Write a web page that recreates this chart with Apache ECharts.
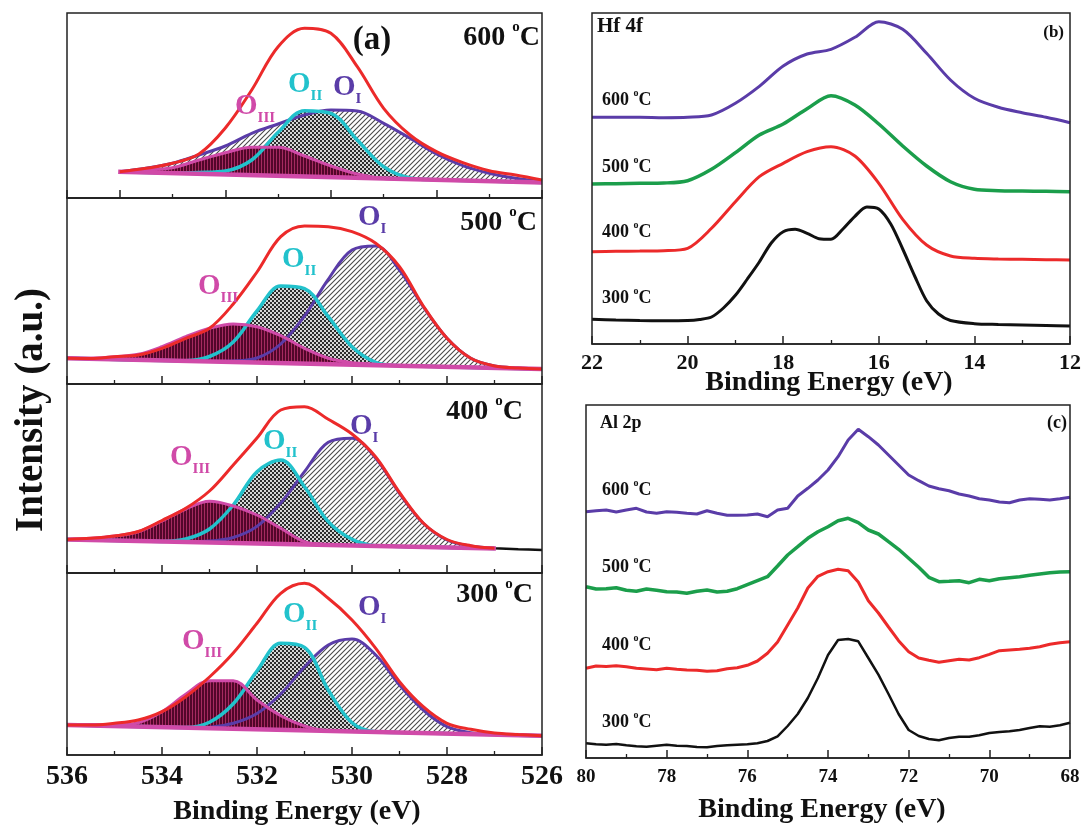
<!DOCTYPE html>
<html><head><meta charset="utf-8">
<script src="https://cdn.jsdelivr.net/npm/echarts@6/dist/echarts.min.js"></script>
<style>html,body{margin:0;padding:0;background:#fff}#c{width:1083px;height:831px}</style>
</head><body><div id="c"></div><script>
// ---------- Panel (a): O 1s, four sub-panels (heights in panel units) ----------
const eA600 = [534,533.5,533,532.5,532,531.5,531,530.5,530,529.5,529,528.5,528,527.5,527,526.5,526];
const eA = [536,535.5,535,534.5,534,533.5,533,532.5,532,531.5,531,530.5,530,529.5,529,528.5,528,527.5,527,526.5,526];

const a600Env  = [26.3,29.7,34.7,44,70,108,151.3,169.7,164.7,131.3,89.7,63,46.3,35.3,27.3,23,18];
const a600OI   = [26.3,29.7,34.7,43,52,64.7,74,83,88,87,74.7,59.7,44,32.3,24.7,19.7,16.3];
const a600OII  = [26.3,25.6,25,25.5,27,38,65.7,87.3,84.7,58,31.3,20,18.2,17.5,16.9,16.2,15.5];
const a600OIII = [26.3,28,30.3,38,45.3,50.7,50.7,42,32,24,19.6,18.9,18.2,17.5,16.9,16.2,15.5];
const a600BaseE = [534.03,526], a600Base = [26.3,15.5];

const a500Env  = [25.7,25.5,27.3,29,35.7,45.7,55.7,80,112,147.3,158,157.3,152.3,140.7,117.3,78,45.7,25.7,18,16,15];
const a500OI   = [25.7,25.2,24.6,24.1,23.6,23,22.6,23,26,40,68,104.7,134,138,114,77.3,45.7,25.7,18,16,15];
const a500OII  = [25.7,25.2,24.6,24.1,23.6,23.3,27.5,42,73,98,95.3,67.3,37.3,21.7,18.2,17.7,17.1,16.6,16.1,15.5,15];
const a500OIII = [25.7,25.5,27.3,29.7,37.3,47.3,55.7,60,57.3,48.3,35.7,25.7,21.3,19.8,18.2,17.7,17.1,16.6,16.1,15.5,15];
const a500BaseE = [536,526], a500Base = [25.7,15];

const a400Env  = [33.6,34.7,37,41.5,52.5,64.7,82,108,135,163,166.3,153.7,139,116,80.5,50,33.5,27.3,24.7,null,null];
const a400OI   = [33.6,33.1,32.6,32.1,31.6,31.5,32,35.5,46.6,70,101.3,130.7,134.7,114.7,79.7,49.7,33,27,24.7,null,null];
const a400OII  = [33.6,33.1,32.6,32.1,31.6,34,44,68,101.3,113,86.3,51.3,33.7,27.3,26.6,26.1,25.6,25.1,24.6,null,null];
const a400OIII = [33.6,34.7,37,41.3,52,64,71.7,67,58,44.7,31.3,28.3,27.6,27.1,26.6,26.1,25.6,25.1,24.6,null,null];
const a400BaseE = [536,526.97], a400Base = [33.6,24.6];
const a400TailE = [527.5,527,526.5,526], a400Tail = [26,24.7,23.7,23];

const a300Env  = [30,30,31.7,35,43.3,58.3,78,102,131.7,161.7,171.7,156.7,135,106.7,73.3,48.3,31.7,25.7,22,20.5,19.3];
const a300OI   = [30,29.5,28.9,28.4,27.9,27.5,27.8,31.7,41.5,61,88,110,116,100,70,45,28.3,22.3,20.4,19.8,19.3];
const a300OII  = [30,29.5,28.9,28.4,27.9,27.5,32.7,51.2,84,111.7,107.7,65,32.3,23.3,22.5,22,21.4,20.9,20.4,19.8,19.3];
const a300OIII = [30,30.5,30,32.3,43.3,60.7,74.3,74.3,55,39.3,29,24.1,23.6,23,22.5,22,21.4,20.9,20.4,19.8,19.3];
const a300BaseE = [536,526], a300Base = [30,19.3];

// ---------- Panel (b): Hf 4f ----------
const eB = [22,21.5,21,20.5,20,19.5,19,18.5,18,17.5,17,16.5,16,15.5,15,14.5,14,13.5,13,12.5,12];
const eB300 = [22,21.5,21,20.5,20,19.75,19.5,19.25,19,18.75,18.5,18.25,18,17.75,17.5,17.25,17,16.75,16.5,16.25,16,15.75,15.5,15.25,15,14.75,14.5,14,13.5,13,12.5,12];
const b600 = [226.7,226.7,226.7,226.3,226.7,229,240.7,257.6,278,290,294.7,306.7,322.3,314.7,290.7,264,245.7,236.7,231.3,226.7,221.3];
const b500 = [160,160.3,160.7,161,163.3,174.7,191.3,209,220,235.3,248.3,239,220,198,178,162.3,154.7,153.3,153,152.7,152.3];
const b400 = [92.3,92.7,93,93.3,95.7,115.7,142.3,167.3,180.7,192.3,197.3,188,160.7,124.7,99,88,85.7,85,84.7,84.3,84];
const b300 = [24.7,24,23.5,23.3,23.5,24.5,27,36,48.7,65,82,101,112.3,114.7,110.7,105.3,104.7,115,127.7,137,135,120,95,68,43.3,30,23.5,20.3,19.5,19,18.5,18];

// ---------- Panel (c): Al 2p ----------
const eC = [80,79.75,79.5,79.25,79,78.75,78.5,78.25,78,77.75,77.5,77.25,77,76.75,76.5,76.25,76,75.75,75.5,75.25,75,74.75,74.5,74.25,74,73.75,73.5,73.25,73,72.75,72.5,72.25,72,71.75,71.5,71.25,71,70.75,70.5,70.25,70,69.75,69.5,69.25,69,68.75,68.5,68.25,68];
const c600 = [246.3,247.3,248,246,248,249.7,246,244.7,246.3,245.7,244.7,244,247.3,244.7,242.7,242.7,243,244,241.3,248,249.7,262,269.7,278,288,301.3,318,328.7,321.3,313,303,293,283,277.3,272,269.3,267.3,264,262,259.3,258,256,255.3,258,259.3,258.7,258,259.3,260.7];
const c500 = [171.3,169,169.3,170.3,167.7,166.7,169,167.7,166.3,166,164.7,166.7,168,166,166.7,169.3,173.3,177.3,181.3,192,203,211.3,219.7,226.3,231.3,237.3,239.7,235.3,228,224,216.3,208.7,199.7,190.7,180.7,176.3,176.7,177.3,175.3,178.7,177.3,179.3,180.3,181.3,182.7,184,185.3,186,186.3];
const c400 = [89.7,92,91.5,92.3,91.3,89.7,89,88.3,89.7,88.7,88,87.7,86.7,87.3,89.3,90.3,92.7,97,104.7,116,133,150,170,181.7,186.3,188.7,187.3,176,157.3,145,131,117.3,106.3,100,97.7,95.7,97.3,98.7,98,100.3,103.7,107.3,108,108.7,109.7,111.3,113.7,115.3,116.3];
const c300 = [14.7,13.7,13.3,14,12.7,11.7,11.3,12.3,13.3,12.3,12,11,10.7,12,12.7,13.3,13.7,14.7,17,21.7,32,44,60,80,103,118,119,116.7,100,83.3,64,44,28,22,19,17.7,20,21.3,21.3,22.7,25,26,26.7,28,30,31.7,31.3,32.7,35.3];

const tempsA = ['600','500','400','300'];

// ---------- styling ----------
const FONT = '"Liberation Serif","Times New Roman",serif';
const PURPLE = '#5a3ca8', CYAN = '#22c2cc', MAGENTA = '#d04aa8', RED = '#ec2a2a', GREEN = '#1b9e4b', BLACK = '#111';

function pat(w, h, draw) { const c = document.createElement('canvas'); c.width = w; c.height = h; draw(c.getContext('2d')); return {image: c, repeat: 'repeat'}; }
const hatch = pat(5, 5, g => { g.fillStyle = '#fff'; g.fillRect(0,0,5,5); g.strokeStyle = '#4a4a4a'; g.lineWidth = 1.1; g.beginPath(); g.moveTo(0,5); g.lineTo(5,0); g.moveTo(-1,1); g.lineTo(1,-1); g.moveTo(4,6); g.lineTo(6,4); g.stroke(); });
const checker = pat(4, 4, g => { g.fillStyle = '#d6d6d6'; g.fillRect(0,0,4,4); g.fillStyle = '#2c2c2c'; g.fillRect(0,0,2,2); g.fillRect(2,2,2,2); });
const maroon = pat(3, 3, g => { g.fillStyle = '#52062a'; g.fillRect(0,0,3,3); g.fillStyle = '#a62a60'; g.fillRect(0,0,1,3); });

const zip = (xs, ys) => xs.map((x, i) => [x, ys[i]]).filter(p => p[1] != null);

const grids = [
  {left: 67, top: 13, width: 475, height: 185},
  {left: 67, top: 198, width: 475, height: 186},
  {left: 67, top: 384, width: 475, height: 189},
  {left: 67, top: 573, width: 475, height: 182},
  {left: 592, top: 13, width: 478, height: 331},
  {left: 586, top: 405, width: 484, height: 353}
].map(g => Object.assign(g, {show: false, containLabel: false, outerBoundsMode: 'none'}));

function xAx(gi, min, max, showLabel, size, margin) {
  return {gridIndex: gi, type: 'value', min, max, inverse: true, interval: 2, z: 20,
    axisLine: {show: true, onZero: false, lineStyle: {color: '#222', width: 1.5}}, splitLine: {show: false},
    axisTick: {show: true, inside: true, length: 8, lineStyle: {color: '#222', width: 1.5}},
    minorTick: {show: true, splitNumber: 2, length: 4, lineStyle: {color: '#222', width: 1.3}},
    axisLabel: {show: showLabel, fontFamily: FONT, fontWeight: 'bold', fontSize: size, color: '#111', margin, hideOverlap: false, showMinLabel: true, showMaxLabel: true}};
}
const xAxis = [xAx(0,526,535,false,28,9), xAx(1,526,536,false,28,9), xAx(2,526,536,false,28,9), xAx(3,526,536,true,28,8), xAx(4,12,22,true,22,8), xAx(5,68,80,true,19,10)];
const yAxis = grids.map((g, i) => ({gridIndex: i, type: 'value', min: 0, max: g.height, show: false}));

const series = [];
function line(gi, data, color, width, extra) {
  series.push(Object.assign({type: 'line', xAxisIndex: gi, yAxisIndex: gi, data, symbol: 'none', smooth: false,
    lineStyle: {color, width}, silent: true, animation: false, z: 2}, extra || {}));
}
const subA = [
  {E: eA600, OI: a600OI, OII: a600OII, OIII: a600OIII, env: a600Env, bE: a600BaseE, b: a600Base},
  {E: eA, OI: a500OI, OII: a500OII, OIII: a500OIII, env: a500Env, bE: a500BaseE, b: a500Base},
  {E: eA, OI: a400OI, OII: a400OII, OIII: a400OIII, env: a400Env, bE: a400BaseE, b: a400Base, tE: a400TailE, t: a400Tail},
  {E: eA, OI: a300OI, OII: a300OII, OIII: a300OIII, env: a300Env, bE: a300BaseE, b: a300Base}
];
subA.forEach((p, i) => {
  if (p.tE) line(i, zip(p.tE, p.t), BLACK, 2.5, {smooth: 0.3});
  line(i, zip(p.E, p.OI), PURPLE, 3, {smooth: 0.35, areaStyle: {color: hatch, opacity: 1}});
  line(i, zip(p.E, p.OII), CYAN, 3.5, {smooth: 0.35, areaStyle: {color: checker, opacity: 1}});
  line(i, zip(p.E, p.OIII), MAGENTA, 3, {smooth: 0.35, areaStyle: {color: maroon, opacity: 1}});
  line(i, zip(p.bE, p.b), MAGENTA, 4.5, {areaStyle: {color: '#fff', opacity: 1}});
  line(i, zip(p.E, p.env), RED, 3, {smooth: 0.35});
});
line(4, zip(eB, b600), PURPLE, 3, {smooth: 0.3});
line(4, zip(eB, b500), GREEN, 3.5, {smooth: 0.3});
line(4, zip(eB, b400), RED, 3, {smooth: 0.3});
line(4, zip(eB300, b300), BLACK, 3, {smooth: 0.3});
line(5, zip(eC, c600), PURPLE, 3);
line(5, zip(eC, c500), GREEN, 3.5);
line(5, zip(eC, c400), RED, 3);
line(5, zip(eC, c300), BLACK, 2.5);

// ---------- text & frames ----------
const mctx = document.createElement('canvas').getContext('2d');
function measure(t, s) { mctx.font = 'bold ' + s + 'px ' + FONT; return mctx.measureText(t).width; }
function textEl(x, y, t, size, color, align, rot) {
  return {type: 'text', x, y, rotation: rot || 0, z: 100, silent: true,
    style: {text: t, font: 'bold ' + size + 'px ' + FONT, fill: color, textAlign: align || 'left', textVerticalAlign: 'middle', align: align || 'left', verticalAlign: 'middle'}};
}
function seq(x, y, parts, color, anchor) {
  const ws = parts.map(p => measure(p[0], p[1]));
  const tot = ws.reduce((a, b) => a + b, 0);
  let cx = anchor === 'right' ? x - tot : anchor === 'center' ? x - tot / 2 : x;
  return parts.map((p, i) => { const el = textEl(cx, y + (p[2] || 0), p[0], p[1], color, 'left'); cx += ws[i]; return el; });
}
const temp = (x, y, t, s, anchor) => seq(x, y, [[t + ' ', s], ['o', Math.round(s * 0.55), -Math.round(s * 0.38)], ['C', s]], BLACK, anchor);
const oLab = (x, y, sub, color) => seq(x, y, [['O', 29], [sub, 15, 11]], color, 'left');

let g = grids.map(gr => ({type: 'rect', z: 90, silent: true, shape: {x: gr.left, y: gr.top, width: gr.width, height: gr.height},
  style: {fill: 'none', stroke: '#222', lineWidth: 1.5}}));
g.push(textEl(372, 40, '(a)', 33, BLACK, 'center'));
g = g.concat(temp(540, 38, tempsA[0], 28, 'right'), temp(537, 223, tempsA[1], 28, 'right'), temp(523, 412, tempsA[2], 28, 'right'), temp(533, 595, tempsA[3], 28, 'right'));
g = g.concat(oLab(235, 107, 'III', MAGENTA), oLab(288, 85, 'II', CYAN), oLab(333, 88, 'I', PURPLE));
g = g.concat(oLab(198, 287, 'III', MAGENTA), oLab(282, 260, 'II', CYAN), oLab(358, 218, 'I', PURPLE));
g = g.concat(oLab(170, 458, 'III', MAGENTA), oLab(263, 442, 'II', CYAN), oLab(350, 427, 'I', PURPLE));
g = g.concat(oLab(182, 642, 'III', MAGENTA), oLab(283, 615, 'II', CYAN), oLab(358, 608, 'I', PURPLE));
g.push(textEl(297, 812, 'Binding Energy (eV)', 28, BLACK, 'center'));
g.push(textEl(32, 410, 'Intensity (a.u.)', 39, BLACK, 'center', Math.PI / 2));
// (b)
g.push(textEl(597, 27, 'Hf 4f', 21, BLACK, 'left'));
g.push(textEl(1064, 33, '(b)', 17, BLACK, 'right'));
g = g.concat(temp(602, 100, '600', 18, 'left'), temp(602, 167, '500', 18, 'left'), temp(602, 232, '400', 18, 'left'), temp(602, 298, '300', 18, 'left'));
g.push(textEl(829, 383, 'Binding Energy (eV)', 28, BLACK, 'center'));
// (c)
g.push(textEl(600, 423, 'Al 2p', 18, BLACK, 'left'));
g.push(textEl(1067, 423, '(c)', 18, BLACK, 'right'));
g = g.concat(temp(602, 490, '600', 18, 'left'), temp(602, 567, '500', 18, 'left'), temp(602, 645, '400', 18, 'left'), temp(602, 722, '300', 18, 'left'));
g.push(textEl(822, 810, 'Binding Energy (eV)', 28, BLACK, 'center'));

const chart = echarts.init(document.getElementById('c'), null, {renderer: 'canvas'});
chart.setOption({backgroundColor: '#fff', animation: false, grid: grids, xAxis, yAxis, series, graphic: {elements: g}});
</script></body></html>
